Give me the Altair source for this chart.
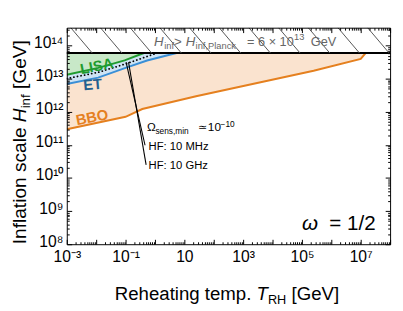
import altair as alt
import pandas as pd

# ---------------- data ----------------
BBO_T = [1e-3, 0.1, 0.37, 25, 2.5e3, 2.5e5, 1.0e7, 1.47e7]
BBO_H = [3.0e11, 7.1e11, 1.22e12, 2.96e12, 7.2e12, 1.74e13, 4.0e13, 6.0e13]
ET_T = [1e-3, 0.0117, 0.1, 0.54, 5.4]
ET_H = [6.95e12, 1.08e13, 2.14e13, 3.56e13, 6.0e13]
LISA_T = [1e-3, 0.0117, 0.093, 0.42]
LISA_H = [1.33e13, 2.14e13, 3.61e13, 6.0e13]
SENS_T = [1e-3, 0.0117, 0.1, 1.17]          # dotted Omega_sens,min line
SENS_H = [1.01e13, 1.57e13, 2.81e13, 6.0e13]
MHZ_T = [0.104, 0.46]                        # HF: 10 MHz
MHZ_H = [3.2e13, 9.8e10]
GHZ_T = [0.126, 0.50]                        # HF: 10 GHz
GHZ_H = [3.2e13, 2.5e10]
H_PLANCK = 6e13
T_RANGE = [1e-3, 1e8]
H_RANGE = [1e8, 3.5e14]

X_MAJOR = [1e-3, 1e-2, 1e-1, 1, 10, 1e2, 1e3, 1e4, 1e5, 1e6, 1e7, 1e8]
X_LABELS = ["10⁻³", "", "10⁻¹", "", "10", "", "10³", "", "10⁵", "", "10⁷", ""]
Y_MAJOR = [1e8, 1e9, 1e10, 1e11, 1e12, 1e13, 1e14]
Y_LABELS = ["10⁸", "10⁹", "10¹⁰", "10¹¹", "10¹²", "10¹³", "10¹⁴"]
X_MINOR = [m * 10.0 ** e for e in range(-3, 8) for m in range(2, 10)]
Y_MINOR = [m * 10.0 ** e for e in range(8, 15) for m in range(2, 10) if m * 10.0 ** e < 3.5e14]

# hatch lines (bottom end on the Planck line), decoration
HATCH_BOTTOM = [0.00736, 0.0753, 0.771, 7.89, 80.7, 826, 8453, 8.65e4, 8.85e5, 9.06e6, 9.27e7]
HATCH_SLANT = 5.4

# ---------------- styles ----------------
FONT = "Liberation Sans"
ORANGE = "#e5801f"
PEACH = "#fae3cf"
BLUE = "#3a8fd6"
LIGHTBLUE = "#cde3f4"
GREEN = "#1f9b2f"
LIGHTGREEN = "#c8e8c8"
ET_TXT = "#24608f"
GRAY = "#666666"

xs = alt.Scale(type="log", domain=T_RANGE, nice=False)
ys = alt.Scale(type="log", domain=H_RANGE, nice=False)

bbo = pd.DataFrame({"T": BBO_T, "H": BBO_H})
et = pd.DataFrame({"T": ET_T, "H": ET_H})
lisa = pd.DataFrame({"T": LISA_T, "H": LISA_H})
sens = pd.DataFrame({"T": SENS_T, "H": SENS_H})
hf = pd.DataFrame({"T": MHZ_T + GHZ_T, "H": MHZ_H + GHZ_H,
                   "line": ["MHz"] * len(MHZ_T) + ["GHz"] * len(GHZ_T)})
hatch = pd.DataFrame({"Tb": HATCH_BOTTOM,
                      "Tt": [b / HATCH_SLANT for b in HATCH_BOTTOM],
                      "Hb": [H_PLANCK] * len(HATCH_BOTTOM),
                      "Ht": [H_RANGE[1]] * len(HATCH_BOTTOM)})
planck = pd.DataFrame({"H": [H_PLANCK]})
ONE = pd.DataFrame({"k": [0]})

xexpr = "[" + ",".join("'%s'" % s for s in X_LABELS) + "][round(log(datum.value)/LN10)+3]"
yexpr = "[" + ",".join("'%s'" % s for s in Y_LABELS) + "][round(log(datum.value)/LN10)-8]"


def ax(orient, values, size, expr=None, pad=4, loff=0):
    kw = dict(orient=orient, values=values, tickSize=size, offset=-size, domain=False,
              grid=False, title=None, ticks=True, tickColor="black", tickWidth=1, zindex=1)
    if expr:
        kw.update(labels=True, labelExpr=expr, labelFont=FONT, labelFontSize=16,
                  labelColor="black", labelPadding=pad, labelOffset=loff,
                  labelOverlap=False, labelFlush=False)
    else:
        kw.update(labels=False)
    return alt.Axis(**kw)


def dom(orient):
    return alt.Axis(orient=orient, domain=True, domainColor="black", domainWidth=1,
                    ticks=False, labels=False, grid=False, title=None, zindex=2)


def axis_layer(xa, ya):
    return alt.Chart(bbo).mark_point(opacity=0).encode(
        x=alt.X("T:Q", scale=xs, axis=xa), y=alt.Y("H:Q", scale=ys, axis=ya))


def X(f="T"):
    return alt.X(f + ":Q", scale=xs, axis=None)


def Y(f="H"):
    return alt.Y(f + ":Q", scale=ys, axis=None)


def piece(text, x, y, size, color="black", style="normal", weight="normal", angle=0):
    return alt.Chart(ONE).mark_text(text=text, font=FONT, fontSize=size, color=color,
                                    fontStyle=style, fontWeight=weight, align="left",
                                    baseline="alphabetic", angle=angle).encode(
        x=alt.value(x), y=alt.value(y))


def area(df, col):
    return alt.Chart(df).mark_area(color=col, opacity=1, clip=True).encode(
        x=X(), y=Y(), y2=alt.datum(H_PLANCK))


def line(df, col, w=2):
    return alt.Chart(df).mark_line(color=col, strokeWidth=w, clip=True).encode(x=X(), y=Y())


def label(text, t, h, col, ang):
    return alt.Chart(ONE).mark_text(text=text, font=FONT, fontSize=15, fontWeight="bold",
                                    color=col, angle=ang, align="center",
                                    baseline="middle").encode(
        x=alt.X("t:Q", scale=xs, axis=None), y=alt.Y("h:Q", scale=ys, axis=None)
    ).transform_calculate(t=str(t), h=str(h))


layers = [
    axis_layer(ax("bottom", X_MAJOR, 5, xexpr, pad=5), ax("left", Y_MAJOR, 5, yexpr, loff=-3)),
    axis_layer(ax("bottom", X_MINOR, 2.5), ax("left", Y_MINOR, 2.5)),
    axis_layer(ax("top", X_MAJOR, 5), ax("right", Y_MAJOR, 5)),
    axis_layer(ax("top", X_MINOR, 2.5), ax("right", Y_MINOR, 2.5)),
    axis_layer(dom("bottom"), dom("left")),
    axis_layer(dom("top"), dom("right")),
    area(bbo, PEACH),
    area(et, LIGHTBLUE),
    area(lisa, LIGHTGREEN),
    line(bbo, ORANGE),
    line(et, BLUE),
    alt.Chart(sens).mark_line(color="black", strokeWidth=1.8, strokeDash=[0.1, 3.6],
                              strokeCap="round", clip=True).encode(x=X(), y=Y()),
    line(lisa, GREEN),
    alt.Chart(hf).mark_line(color="black", strokeWidth=1.1).encode(
        x=X(), y=Y(), detail="line:N"),
    alt.Chart(planck).mark_rule(color="black", strokeWidth=2).encode(y=Y()),
    alt.Chart(hatch).mark_rule(color="#555555", strokeWidth=1, clip=True).encode(
        x=X("Tt"), y=Y("Ht"), x2="Tb:Q", y2="Hb:Q"),
    label("LISA", 0.0105, 2.4e13, GREEN, 349),
    label("ET", 0.0076, 6.7e12, ET_TXT, 355),
    label("BBO", 0.0072, 6.84e11, ORANGE, 349),
    # top annotation  H_inf > H_inf,Planck = 6 x 10^13 GeV
    piece("H", 89, 18.5, 13.5, GRAY, "italic"),
    piece("inf", 99.5, 22, 9.5, GRAY),
    piece(">", 109.5, 18.5, 13.5, GRAY),
    piece("H", 121.5, 18.5, 13.5, GRAY, "italic"),
    piece("inf,Planck", 131.5, 22, 9.5, GRAY),
    piece("= 6 × 10", 184, 18.5, 13, GRAY),
    piece("13", 232, 13, 9.5, GRAY),
    piece("GeV", 249, 18.5, 13, GRAY),
    # Omega_sens,min ~ 10^-10
    piece("Ω", 82, 105.5, 12),
    piece("sens,min", 90.5, 108.5, 8.5),
    piece("≃", 134, 105.5, 11),
    piece("10", 144, 105.5, 12),
    piece("−10", 157, 101, 8.5),
    piece("HF: 10 MHz", 83.5, 125, 11.5),
    piece("HF: 10 GHz", 83.5, 144, 11.5),
    # omega = 1/2
    piece("ω", 240, 206, 21, style="italic"),
    piece("= 1/2", 268, 206, 21),
    # x title
    piece("Reheating temp.", 49, 278, 19),
    piece("T", 193.7, 278, 19, style="italic"),
    piece("RH", 205.3, 282, 13),
    piece("[GeV]", 229.4, 278, 19),
    # y title
    piece("Inflation scale", -42, 221, 19.5, angle=270),
    piece("H", -42, 96.4, 19.5, style="italic", angle=270),
    piece("inf", -38, 82.3, 13.5, angle=270),
    piece("[GeV]", -42, 62.6, 19.5, angle=270),
]

chart = alt.layer(*layers).resolve_axis(x="independent", y="independent").properties(
    width=330, height=221,
    autosize=alt.AutoSizeParams(type="none"),
    padding={"left": 60, "top": 17, "right": 5, "bottom": 62},
).configure_view(stroke=None)

chart.save("out.html", embed_options={"renderer": "svg", "actions": False})
